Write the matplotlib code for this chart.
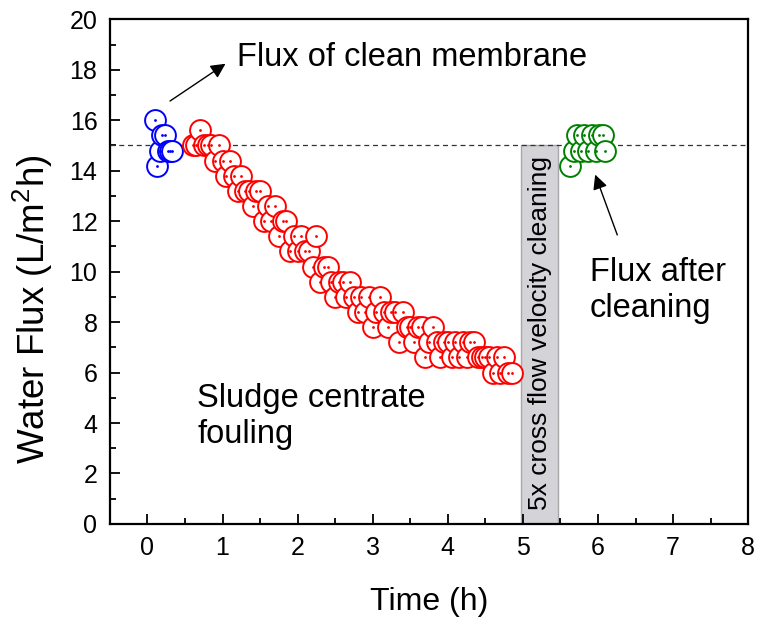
import numpy as np
import matplotlib
matplotlib.use('Agg')
import matplotlib.pyplot as plt

plt.rcParams['font.family'] = ['Liberation Sans', 'DejaVu Sans']
plt.rcParams['mathtext.fontset'] = 'custom'
plt.rcParams['mathtext.rm'] = 'Liberation Sans'

# clean membrane flux
t_clean = [0.10, 0.13, 0.17, 0.20, 0.23, 0.27, 0.30, 0.33]
f_clean = [16.0, 14.2, 14.8, 15.4, 15.4, 14.8, 14.8, 14.8]

# sludge centrate fouling
t_foul = [0.60, 0.65, 0.70, 0.75, 0.80, 0.85, 0.90, 0.95, 1.00, 1.05,
          1.10, 1.15, 1.20, 1.25, 1.30, 1.35, 1.40, 1.45, 1.50, 1.55,
          1.60, 1.65, 1.70, 1.75, 1.80, 1.85, 1.90, 1.95, 2.00, 2.05,
          2.10, 2.15, 2.20, 2.25, 2.30, 2.35, 2.40, 2.45, 2.50, 2.55,
          2.60, 2.65, 2.70, 2.75, 2.80, 2.85, 2.90, 2.95, 3.00, 3.05,
          3.10, 3.15, 3.20, 3.25, 3.30, 3.35, 3.40, 3.45, 3.50, 3.55,
          3.60, 3.65, 3.70, 3.75, 3.80, 3.85, 3.90, 3.95, 4.00, 4.05,
          4.10, 4.15, 4.20, 4.25, 4.30, 4.35, 4.40, 4.45, 4.50, 4.55,
          4.60, 4.65, 4.70, 4.75, 4.80, 4.85]
f_foul = [15.0, 15.0, 15.6, 15.0, 15.0, 15.0, 14.4, 15.0, 14.4, 13.8,
          14.4, 13.8, 13.2, 13.8, 13.2, 13.2, 12.6, 13.2, 13.2, 12.0,
          12.6, 12.0, 12.6, 11.4, 12.0, 12.0, 10.8, 11.4, 10.8, 11.4,
          10.8, 10.8, 10.2, 11.4, 9.6, 10.2, 10.2, 9.6, 9.0, 9.6,
          9.6, 9.0, 9.6, 9.0, 8.4, 9.0, 8.4, 9.0, 7.8, 8.4,
          9.0, 8.4, 7.8, 8.4, 8.4, 7.2, 8.4, 7.8, 7.8, 7.2,
          7.8, 7.8, 6.6, 7.2, 7.8, 7.2, 6.6, 7.2, 7.2, 6.6,
          7.2, 6.6, 7.2, 6.6, 7.2, 7.2, 6.6, 6.6, 6.6, 6.6,
          6.0, 6.6, 6.0, 6.6, 6.0, 6.0]

# flux after cleaning
t_after = [5.63, 5.68, 5.72, 5.77, 5.82, 5.87, 5.92, 5.97, 6.02, 6.07, 6.10]
f_after = [14.2, 14.8, 15.4, 14.8, 15.4, 14.8, 15.4, 14.8, 15.4, 15.4, 14.8]

clean_flux = 15.0
cleaning_start, cleaning_end = 4.98, 5.47

fig = plt.figure(figsize=(7.58, 6.23), dpi=100)
ax = fig.add_axes([0.145, 0.159, 0.842, 0.81])

ax.axvspan(cleaning_start, cleaning_end, ymin=0, ymax=clean_flux / 20,
           facecolor='#d3d3d8', edgecolor='#a8a8a8', lw=1, zorder=1)
ax.axhline(clean_flux, color='#333333', lw=0.9, ls=(0, (4, 3)), zorder=2)

for t, f, c in [(t_clean, f_clean, 'blue'), (t_foul, f_foul, 'red'),
                (t_after, f_after, 'green')]:
    ax.plot(t, f, 'o', ms=15, mfc='white', mec=c, mew=1.4, zorder=3)
    ax.plot(t, f, '.', ms=2, color=c, zorder=4)

ax.text((cleaning_start + cleaning_end) / 2, 7.55, '5x cross flow velocity cleaning',
        rotation=90, ha='center', va='center', fontsize=19, zorder=5)

ax.annotate('Flux of clean membrane', xy=(1.07, 18.3), xytext=(1.19, 18.5),
            fontsize=23.5, va='center', ha='left')
ax.annotate('', xy=(1.07, 18.3), xytext=(0.27, 16.7),
            arrowprops=dict(arrowstyle='-|>', color='black', lw=1,
                            mutation_scale=22))
ax.text(5.89, 9.25, 'Flux after\ncleaning', fontsize=23.5, va='center', ha='left')
ax.annotate('', xy=(5.95, 13.95), xytext=(6.27, 11.35),
            arrowprops=dict(arrowstyle='-|>', color='black', lw=1,
                            mutation_scale=22))
ax.text(0.66, 4.25, 'Sludge centrate\nfouling', fontsize=23.5, va='center', ha='left')

ax.set_xlim(-0.5, 8)
ax.set_ylim(0, 20)
ax.set_xticks(range(0, 9))
ax.set_xticks(np.arange(-0.5, 8.01, 0.5), minor=True)
ax.set_yticks(range(0, 21, 2))
ax.set_yticks(range(0, 21, 1), minor=True)
ax.tick_params(which='major', direction='in', length=7, width=1.3, labelsize=18, pad=9)
ax.tick_params(which='minor', direction='in', length=4, width=1.3)
for s in ax.spines.values():
    s.set_linewidth(1.6)

ax.set_xlabel('Time (h)', fontsize=23, labelpad=19)
ax.set_ylabel('Water Flux (L/m$^2$h)', fontsize=26.5)
ax.yaxis.set_label_coords(-0.086, 0.425)

fig.savefig('out.png', dpi=100)
